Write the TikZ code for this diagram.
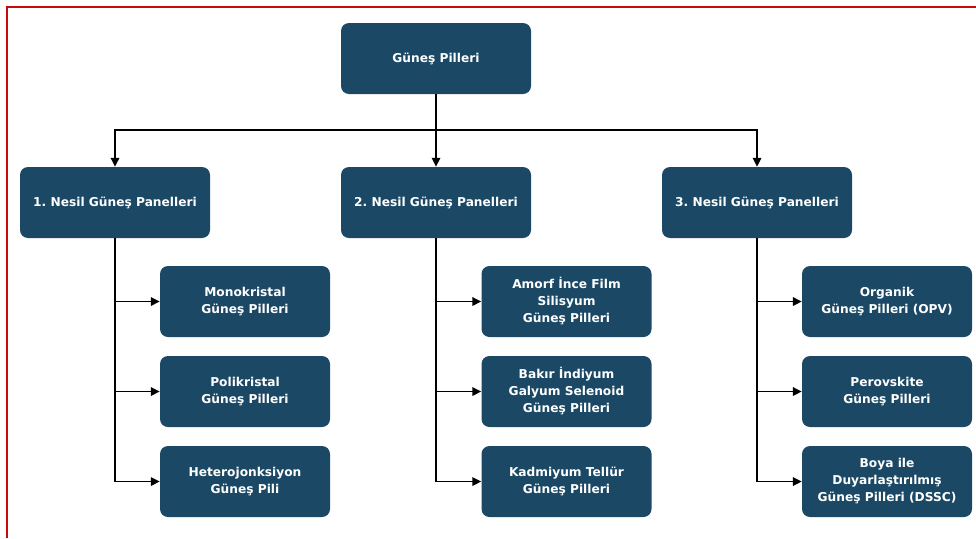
\documentclass[tikz,border=0pt]{standalone}
\usepackage{fontspec}
\setmainfont{DejaVu Sans}
\usetikzlibrary{arrows.meta}
\definecolor{boxblue}{RGB}{27,73,101}
\definecolor{frame}{RGB}{200,10,10}
\begin{document}
\begin{tikzpicture}[x=1pt,y=-1pt,
  box/.style={fill=boxblue, rounded corners=8pt, text=white,
    font=\frenchspacing\bfseries\fontsize{12.2}{17}\selectfont, align=center, inner sep=0pt,
    minimum width=190pt, minimum height=71pt},
  sub/.style={box, minimum width=170pt},
  wire/.style={line width=1.6pt, draw=black},
  conn/.style={wire, -{Triangle[length=9pt,width=8.5pt]}}]
\useasboundingbox (0,0) rectangle (976,538);
\draw[frame, line width=2pt] (7,538) -- (7,7) -- (976,7);

\node[box] (top) at (436,58.5) {Güneş Pilleri};
\node[box] (g1) at (115,202.5) {1. Nesil Güneş Panelleri};
\node[box] (g2) at (436,202.5) {2. Nesil Güneş Panelleri};
\node[box] (g3) at (757,202.5) {3. Nesil Güneş Panelleri};

\node[sub] (a1) at (245,301.5) {Monokristal\\Güneş Pilleri};
\node[sub] (a2) at (245,391.5) {Polikristal\\Güneş Pilleri};
\node[sub] (a3) at (245,481.5) {Heterojonksiyon\\Güneş Pili};

\node[sub] (b1) at (566.5,301.5) {Amorf İnce Film\\Silisyum\\Güneş Pilleri};
\node[sub] (b2) at (566.5,391.5) {Bakır İndiyum\\Galyum Selenoid\\Güneş Pilleri};
\node[sub] (b3) at (566.5,481.5) {Kadmiyum Tellür\\Güneş Pilleri};

\node[sub] (c1) at (887,301.5) {Organik\\Güneş Pilleri (OPV)};
\node[sub] (c2) at (887,391.5) {Perovskite\\Güneş Pilleri};
\node[sub] (c3) at (887,481.5) {Boya ile\\Duyarlaştırılmış\\Güneş Pilleri (DSSC)};

\coordinate (bus) at (436,130);
\draw[conn] (top.south) -- (g2.north);
\draw[conn] (bus) -| (g1.north);
\draw[conn] (bus) -| (g3.north);

\draw[wire] (g1.south) -- (g1.south |- a3.west);
\draw[conn] (g1.south |- a1.west) -- (a1.west);
\draw[conn] (g1.south |- a2.west) -- (a2.west);
\draw[conn] (g1.south |- a3.west) -- (a3.west);

\draw[wire] (g2.south) -- (g2.south |- b3.west);
\draw[conn] (g2.south |- b1.west) -- (b1.west);
\draw[conn] (g2.south |- b2.west) -- (b2.west);
\draw[conn] (g2.south |- b3.west) -- (b3.west);

\draw[wire] (g3.south) -- (g3.south |- c3.west);
\draw[conn] (g3.south |- c1.west) -- (c1.west);
\draw[conn] (g3.south |- c2.west) -- (c2.west);
\draw[conn] (g3.south |- c3.west) -- (c3.west);
\end{tikzpicture}
\end{document}
